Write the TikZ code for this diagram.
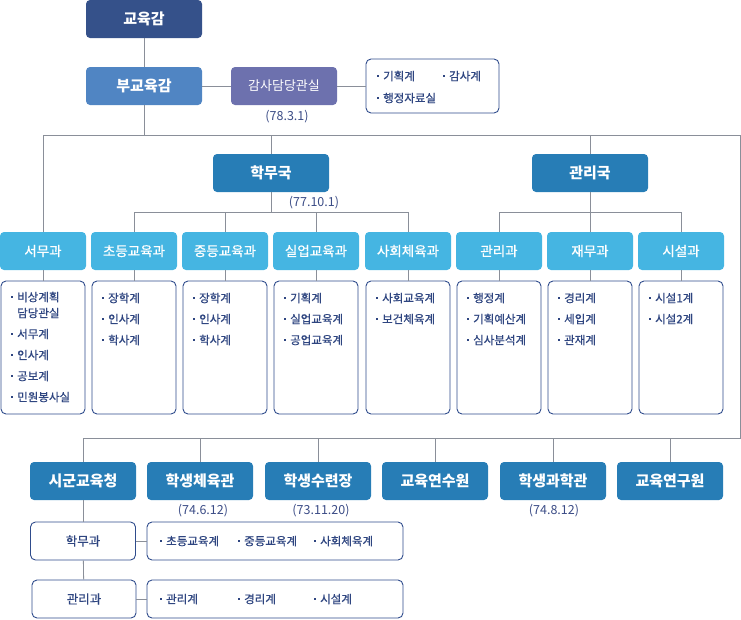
\documentclass[tikz,border=0pt]{standalone}
\usepackage{fontspec}
\setmainfont{Noto Sans CJK KR}
\newfontfamily\krmed{Noto Sans CJK KR}[FakeBold=0.7]
\definecolor{cNavy}{HTML}{35518A}
\definecolor{cVice}{HTML}{5085C3}
\definecolor{cAudit}{HTML}{6D71AE}
\definecolor{cBureau}{HTML}{277DB6}
\definecolor{cDiv}{HTML}{45B5E2}
\definecolor{cBorder}{HTML}{2F4C8C}
\definecolor{cItem}{HTML}{2E4580}
\definecolor{cDate}{HTML}{3B4C86}
\definecolor{cLine}{HTML}{8A8F99}
\newcommand\itmdot{\raisebox{0.32em}{\rule{1.5pt}{1.5pt}}\hspace{4.5pt}}
\begin{document}
\begin{tikzpicture}[x=1pt,y=-1pt,
  topbox/.style={rounded corners=4pt, minimum width=116pt, minimum height=38pt, inner sep=0pt, text=white, font=\bfseries\fontsize{15}{17}\selectfont},
  botbox/.style={fill=cBureau, rounded corners=4pt, minimum width=106pt, minimum height=38pt, inner sep=0pt, text=white, font=\bfseries\fontsize{15}{17}\selectfont},
  divbox/.style={fill=cDiv, rounded corners=4pt, minimum width=86pt, minimum height=38pt, inner sep=0pt, text=white, font=\krmed\fontsize{13.5}{15}\selectfont},
  listbox/.style={draw=cBorder, line width=0.9pt, rounded corners=5pt, fill=white, inner sep=0pt},
  item/.style={anchor=west, inner sep=0pt, text=cItem, font=\krmed\fontsize{11.5}{13}\selectfont},
  datelbl/.style={inner sep=0pt, text=cDate, font=\fontsize{12.5}{14}\selectfont},
  conn/.style={draw=cLine, line width=0.8pt}]
\useasboundingbox (0,0) rectangle (741,619);

% top
\node[topbox, fill=cNavy] (sup) at (144,19) {교육감};
\node[topbox, fill=cVice] (vice) at (144,86) {부교육감};
\node[topbox, fill=cAudit, minimum width=106pt, font=\fontsize{13}{15}\selectfont] (audit) at (284,86) {감사담당관실};
\node[listbox, minimum width=133pt, minimum height=54pt] (auditlist) at (432.5,86) {};
\node[item] (a1) at (377,76) {\itmdot 기획계};
\node[item] (a2) at (443,76) {\itmdot 감사계};
\node[item] (a3) at (377,98) {\itmdot 행정자료실};
\node[datelbl] (d1) at (287,117) {(78.3.1)};

\draw[conn] (sup) -- (vice);
\draw[conn] (vice) -- (audit);
\draw[conn] (audit) -- (auditlist);

% bureaus
\node[topbox, fill=cBureau] (hak) at (271,173) {학무국};
\node[topbox, fill=cBureau] (kwan) at (590,173) {관리국};
\node[datelbl] (d2) at (314,203) {(77.10.1)};

% divisions
\foreach \n/\x/\t in {d1x/43/서무과, d2x/134/초등교육과, d3x/225/중등교육과, d4x/316/실업교육과, d5x/408/사회체육과, d6x/499/관리과, d7x/590/재무과, d8x/681/시설과}{
  \node[divbox] (\n) at (\x,251) {\t};
  \node[listbox, minimum width=84pt, minimum height=133pt] (\n l) at (\x,347.5) {};
  \draw[conn] (\n) -- (\n l);
}

% main trunk
\coordinate (j0) at (144,135);
\coordinate (jL) at (43,135);
\coordinate (jR) at (740,135);
\coordinate (jRb) at (740,438);
\coordinate (jLb) at (83,438);
\draw[conn] (vice.south) -- (j0);
\draw[conn] (jL) -- (jR) -- (jRb) -- (jLb);
\draw[conn] (jL) -- (d1x.north);
\draw[conn] (hak.north |- j0) -- (hak.north);
\draw[conn] (kwan.north |- j0) -- (kwan.north);

% bureau branches
\coordinate (hb) at (271,212);
\draw[conn] (hak.south) -- (hb);
\draw[conn] (d2x.north) -- (d2x.north |- hb) -- (d5x.north |- hb) -- (d5x.north);
\draw[conn] (d3x.north |- hb) -- (d3x.north);
\draw[conn] (d4x.north |- hb) -- (d4x.north);
\coordinate (kb) at (590,212);
\draw[conn] (kwan.south) -- (kb);
\draw[conn] (d6x.north) -- (d6x.north |- kb) -- (d8x.north |- kb) -- (d8x.north);
\draw[conn] (d7x.north |- kb) -- (d7x.north);

% list items
\node[item] at (11,297) {\itmdot 비상계획};
\node[item] at (17,313) {담당관실};
\node[item] at (11,334) {\itmdot 서무계};
\node[item] at (11,355) {\itmdot 인사계};
\node[item] at (11,376) {\itmdot 공보계};
\node[item] at (11,397) {\itmdot 민원봉사실};

\foreach \x/\a/\b/\c in {102/장학계/인사계/학사계, 193/장학계/인사계/학사계, 284/기획계/실업교육계/공업교육계, 467/행정계/기획예산계/심사분석계, 558/경리계/세입계/관재계}{
  \node[item] at (\x,298) {\itmdot \a};
  \node[item] at (\x,319) {\itmdot \b};
  \node[item] at (\x,340) {\itmdot \c};
}
\node[item] at (376,298) {\itmdot 사회교육계};
\node[item] at (376,319) {\itmdot 보건체육계};
\node[item] at (649,298) {\itmdot 시설1계};
\node[item] at (649,319) {\itmdot 시설2계};

% bottom row
\node[botbox] (b1) at (83,481) {시군교육청};
\node[botbox] (b2) at (200,481) {학생체육관};
\node[botbox] (b3) at (318,481) {학생수련장};
\node[botbox] (b4) at (435,481) {교육연수원};
\node[botbox] (b5) at (553,481) {학생과학관};
\node[botbox] (b6) at (670,481) {교육연구원};
\foreach \n in {b1,b2,b3,b4,b5,b6}{\draw[conn] (\n.north |- jLb) -- (\n.north);}
\node[datelbl] (d3) at (203,511) {(74.6.12)};
\node[datelbl] (d4) at (321,511) {(73.11.20)};
\node[datelbl] (d5) at (554,511) {(74.8.12)};

\node[listbox, minimum width=105pt, minimum height=38pt, text=cItem, font=\krmed\fontsize{12.5}{15}\selectfont] (hm) at (83,541) {학무과};
\node[listbox, minimum width=104pt, minimum height=38pt, text=cItem, font=\krmed\fontsize{12.5}{15}\selectfont] (gm) at (84,599) {관리과};
\node[listbox, minimum width=256pt, minimum height=38pt] (hml) at (275,541) {};
\node[listbox, minimum width=256pt, minimum height=38pt] (gml) at (275,599) {};
\draw[conn] (b1) -- (hm);
\draw[conn] (hm) -- (gm);
\draw[conn] (hm) -- (hml);
\draw[conn] (gm) -- (gml);
\node[item] at (160,541) {\itmdot 초등교육계};
\node[item] at (238,541) {\itmdot 중등교육계};
\node[item] at (314,541) {\itmdot 사회체육계};
\node[item] at (160,599) {\itmdot 관리계};
\node[item] at (238,599) {\itmdot 경리계};
\node[item] at (314,599) {\itmdot 시설계};
\end{tikzpicture}
\end{document}
